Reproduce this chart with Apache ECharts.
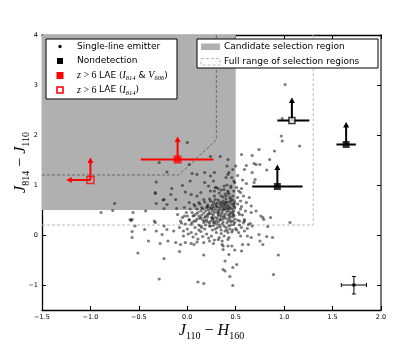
<!DOCTYPE html>
<html>
<head>
<meta charset="utf-8">
<script src="https://cdn.jsdelivr.net/npm/echarts@6/dist/echarts.min.js"></script>
<style>
    html, body { margin: 0; padding: 0; background: #fff; }
    #chart { width: 415px; height: 346px; }
</style>
</head>
<body>
<div id="chart"></div>
<script>
// ============================================
// 数据
// ============================================

// 单线发射体 [J110-H160, J814-J110]
const singleLine = [
    [-0.89, 0.45], [-0.77, 0.49], [-0.75, 0.63], [-0.56, 0.45], [-0.59, 0.31], [-0.58, 0.29], [-0.54, 0.18],
    [-0.57, 0.07], [-0.57, -0.05], [-0.51, -0.36], [-0.44, 0.11], [-0.40, -0.12], [-0.28, -0.17], [-0.24, -0.47],
    [-0.29, -0.88], [-0.33, 0.25], [-0.32, 0.08], [-0.26, 0.01], [-0.21, 0.11], [-0.20, -0.12], [-0.14, 0.08],
    [-0.12, -0.15], [-0.08, -0.33], [-0.07, -0.19], [-0.04, -0.02], [-0.02, -0.15], [0.04, -0.17], [0.07, -0.19],
    [0.10, -0.14], [0.11, -0.94], [0.17, -0.97], [0.17, -0.40], [0.17, -0.15], [0.23, -0.12], [0.27, -0.17],
    [0.32, -0.09], [0.36, -0.19], [0.37, -0.29], [0.42, -0.22], [0.39, -0.52], [0.37, -0.69], [0.39, -0.72],
    [0.44, -0.83], [0.43, -0.39], [0.42, -0.09], [0.47, -1.01], [0.47, -0.65], [0.51, -0.59], [0.49, -0.30],
    [0.56, -0.32], [0.89, -0.79], [0.94, -0.40], [0.36, -0.12], [0.37, -0.22], [0.43, -0.05], [0.46, -0.22],
    [0.57, -0.19], [0.63, -0.19], [0.75, -0.12], [0.78, -0.19], [0.74, 0.01], [0.82, -0.03], [0.88, -0.05],
    [0.83, 0.17], [1.06, 0.25], [0.66, -0.05], [0.62, -0.02], [0.55, -0.02], [0.53, 0.05], [0.59, 0.08],
    [0.62, 0.13], [0.67, 0.18], [0.65, 0.23], [0.59, 0.28], [0.54, 0.28], [0.79, 0.31], [0.48, 0.21], [0.50, 0.13],
    [1.01, 3.01], [0.98, 2.33], [0.97, 1.98], [0.98, 1.88], [1.16, 1.78], [0.74, 1.71], [0.90, 1.68], [0.85, 1.51],
    [0.82, 1.30], [0.67, 1.59], [0.56, 1.61], [0.69, 1.43], [0.71, 1.41], [0.75, 1.41], [0.61, 1.39], [0.59, 1.31],
    [0.67, 1.25], [0.52, 1.19], [0.57, 1.10], [0.61, 1.03], [0.69, 1.05], [0.70, 1.11], [0.56, 0.93], [0.55, 0.85],
    [0.58, 0.78], [0.64, 0.75], [0.55, 0.68], [0.61, 0.65], [0.66, 0.58], [0.56, 0.57], [0.60, 0.48], [0.66, 0.45],
    [0.54, 0.41], [0.71, 0.48], [0.76, 0.38], [0.78, 0.35], [0.86, 0.35], [0.48, 0.38], [0.47, 0.28], [0.59, 0.31],
    [0.63, 0.21], [0.42, 1.51], [0.41, 1.38], [0.42, 1.21], [0.40, 1.15], [0.48, 1.08], [0.45, 0.98], [0.38, 0.91],
    [0.42, 0.88], [-0.29, 1.45], [-0.21, 1.26], [-0.32, 1.06], [-0.33, 0.85], [-0.32, 0.63], [-0.24, 0.53],
    [-0.43, 0.48], [-0.16, 0.93], [-0.17, 0.81], [-0.12, 0.71], [-0.25, 0.70], [-0.11, 0.53], [0.02, 1.41],
    [0.03, 1.08], [0.05, 1.23], [0.10, 1.21], [0.18, 1.25], [0.24, 1.18], [0.28, 1.25], [0.34, 1.57], [0.24, 1.57],
    [0.43, 1.25], [0.47, 1.31], [0.50, 1.38], [-0.05, 0.99], [-0.02, 0.86], [0.04, 0.81], [0.10, 0.78], [0.14, 0.85],
    [0.22, 0.98], [0.28, 0.88], [0.32, 0.93], [0.38, 0.98], [0.35, 0.78], [0.42, 0.85], [0.17, 0.71], [0.24, 0.68],
    [0.29, 0.71], [0.12, 0.65], [0.07, 0.61], [0.02, 0.65], [-0.03, 0.55], [0.15, 0.55], [0.21, 0.57], [0.27, 0.55],
    [0.34, 0.61], [0.40, 0.65], [0.37, 0.51], [0.43, 0.53], [0.18, 1.05], [0.27, 1.08], [0.29, 0.95], [0.00, 1.85],
    [-0.21, 0.61], [-0.24, 0.71], [-0.33, 0.83], [-0.10, 0.41], [-0.03, 0.38], [-0.07, 0.28], [0.02, 0.31],
    [0.07, 0.39], [0.09, 0.28], [0.14, 0.35], [0.18, 0.28], [0.21, 0.41], [0.26, 0.35], [0.28, 0.25], [0.32, 0.41],
    [0.34, 0.31], [0.38, 0.38], [0.42, 0.28], [0.24, 0.18], [0.14, 0.18], [0.04, 0.21], [-0.57, 0.31], [-0.34, 0.28],
    [-0.24, 0.18],
    // 密集区
    [0.20, 0.30], [0.25, 0.35], [0.30, 0.28], [0.35, 0.40], [0.40, 0.33], [0.45, 0.45], [0.28, 0.45], [0.22, 0.42],
    [0.33, 0.50], [0.38, 0.55], [0.42, 0.60], [0.46, 0.52], [0.48, 0.40], [0.44, 0.30], [0.36, 0.22], [0.31, 0.15],
    [0.26, 0.10], [0.18, 0.12], [0.12, 0.20], [0.08, 0.15], [0.05, 0.25], [0.10, 0.32], [0.15, 0.40], [0.19, 0.48],
    [0.24, 0.55], [0.29, 0.62], [0.34, 0.66], [0.40, 0.72], [0.45, 0.68], [0.47, 0.78], [0.43, 0.82], [0.37, 0.76],
    [0.32, 0.70], [0.27, 0.66], [0.21, 0.60], [0.16, 0.52], [0.11, 0.45], [0.06, 0.38], [0.02, 0.30], [-0.02, 0.22],
    [0.00, 0.12], [0.04, 0.05], [0.09, 0.02], [0.14, 0.07], [0.20, 0.02], [0.25, -0.02], [0.30, 0.05], [0.35, 0.10],
    [0.40, 0.15], [0.45, 0.20], [0.49, 0.25], [0.47, 0.10], [0.42, 0.05], [0.38, -0.02], [0.33, -0.05], [0.28, -0.10],
    [0.22, -0.06], [0.16, -0.03], [0.11, -0.08], [0.06, -0.04], [0.01, 0.02], [-0.04, 0.08], [-0.08, 0.15],
    [-0.05, 0.35], [-0.01, 0.45], [0.03, 0.52], [0.08, 0.58], [0.13, 0.62], [0.18, 0.66], [0.23, 0.72], [0.28, 0.78],
    [0.33, 0.84], [0.38, 0.62], [0.43, 0.48], [0.48, 0.58], [0.49, 0.66], [0.46, 0.36], [0.41, 0.24], [0.37, 0.32],
    [0.32, 0.38], [0.27, 0.25], [0.23, 0.18], [0.17, 0.25], [0.13, 0.33], [0.09, 0.42], [0.21, 0.36], [0.26, 0.48],
    [0.31, 0.56], [0.36, 0.48], [0.39, 0.42], [0.44, 0.38], [0.34, 0.30], [0.29, 0.35], [0.24, 0.28], [0.19, 0.20],
    [0.15, 0.15], [0.27, 0.40], [0.33, 0.20], [0.39, 0.08], [0.44, 0.12], [0.48, 0.48], [0.41, 0.52], [0.36, 0.58],
    [0.31, 0.45], [0.25, 0.52], [0.20, 0.55], [0.14, 0.48], [0.07, 0.28], [0.12, 0.10], [0.18, 0.35], [0.23, 0.45],
    [0.35, 0.36], [0.42, 0.40], [0.46, 0.62], [0.40, 0.66], [0.30, 0.22], [0.26, 0.32], [0.37, 0.26], [0.43, 0.18],
    [0.49, 0.32], [0.47, 0.70], [0.44, 0.75], [0.39, 0.82], [0.35, 0.90], [0.30, 0.95], [0.24, 0.88], [0.48, 0.88],
    [0.45, 0.95], [0.41, 1.00], [0.49, 1.05], [0.46, 1.15], [0.52, 0.30], [0.53, 0.45], [0.55, 0.52], [0.52, 0.62],
    [0.57, 0.40], [0.54, 0.20], [0.51, 0.10], [0.56, 0.15], [0.58, 0.25], [0.52, 0.75], [0.53, 0.88], [0.51, 0.95],
    [0.31, 0.33], [0.36, 0.44], [0.41, 0.46], [0.44, 0.56], [0.39, 0.60], [0.34, 0.55], [0.29, 0.50], [0.22, 0.50],
    [0.17, 0.44], [0.12, 0.38], [0.27, 0.19], [0.32, 0.26], [0.38, 0.18], [0.45, 0.26], [0.47, 0.42], [0.49, 0.55],
    [0.43, 0.66], [0.37, 0.68], [0.31, 0.64], [0.26, 0.60], [0.19, 0.38], [0.23, 0.24], [0.29, 0.12], [0.35, 0.03],
    [0.41, 0.10], [0.46, 0.06], [0.05, 0.45], [0.10, 0.52], [0.00, 0.38], [-0.06, 0.24], [0.16, 0.30], [0.39, 0.50],
    [0.33, 0.44], [0.38, 0.36], [0.43, 0.34], [0.47, 0.46], [0.41, 0.56], [0.36, 0.64], [0.30, 0.58], [0.25, 0.42],
    [0.21, 0.26], [0.27, 0.30], [0.34, 0.16], [0.44, 0.42], [0.48, 0.62], [0.45, 0.72], [0.40, 0.78], [0.32, 0.48]
];

// [x, y, x下限, x上限, y箭头端, x箭头端]
const nondetection = [
    [0.93, 0.97, 0.67, 1.19, 1.41, 0.93],
    [1.64, 1.81, 1.54, 1.74, 2.26, 1.64]
];
const nondetectionOpen = [
    [1.08, 2.29, 0.93, 1.26, 2.75, 1.08]
];
const laeBoth = [
    [-0.10, 1.51, -0.48, 0.27, 1.97, -0.10]
];
const laeI814 = [
    [-1.00, 1.10, -1.00, -1.00, 1.55, -1.25]
];
// 典型误差 [x, y, x下限, x上限, y下限, y上限]
const typicalError = [
    [1.72, -1.00, 1.59, 1.85, -1.18, -0.83]
];

// 选择区域
const candidateRegion = [[-1.5, 0.5], [0.5, 4.0]];
const candidateEdge = [[-1.5, 1.2], [-0.09, 1.2], [0.30, 1.9], [0.30, 4.0]];
const fullRangeEdge = [[-1.5, 0.2], [1.3, 0.2], [1.3, 4.0]];

// 刻度
const xTicks = [-1.5, 2.0, 0.5];
const yTickValues = [-1, 0, 1, 2, 3, 4];

// ============================================
// 样式工具
// ============================================

const MATH = 'Liberation Serif';
const SANS = 'DejaVu Sans';

const richName = {
    m: { fontFamily: MATH, fontStyle: 'italic', fontSize: 16, lineHeight: 20, color: '#000' },
    t: { fontFamily: MATH, fontSize: 16, lineHeight: 20, color: '#000' },
    s: { fontFamily: MATH, fontSize: 10, lineHeight: 10, verticalAlign: 'bottom', color: '#000' }
};

const richLegend = {
    n: { fontFamily: SANS, fontSize: 9, lineHeight: 13, color: '#000' },
    m: { fontFamily: MATH, fontStyle: 'italic', fontSize: 10, lineHeight: 13, color: '#000' },
    t: { fontFamily: MATH, fontSize: 10, lineHeight: 13, color: '#000' },
    s: { fontFamily: MATH, fontStyle: 'italic', fontSize: 6.5, lineHeight: 7, verticalAlign: 'bottom', color: '#000' }
};

const minus = s => String(s).replace('-', '\u2212');

/**
 * 上限箭头和误差棒
 */
function renderLimits(color) {
    return function (params, api) {
        const x = api.value(0), y = api.value(1);
        const xLo = api.value(2), xHi = api.value(3);
        const yTip = api.value(4), xTip = api.value(5);
        const c = api.coord([x, y]);
        const stroke = { stroke: color, lineWidth: 2 };
        const kids = [];
        if (xLo !== xHi) {
            const a = api.coord([xLo, y]), b = api.coord([xHi, y]);
            kids.push({ type: 'line', shape: { x1: a[0], y1: a[1], x2: b[0], y2: b[1] }, style: stroke });
        }
        if (yTip !== y) {
            const t = api.coord([x, yTip]);
            kids.push({ type: 'line', shape: { x1: c[0], y1: c[1], x2: t[0], y2: t[1] + 4 }, style: stroke });
            kids.push({ type: 'polygon', shape: { points: [[t[0] - 3, t[1] + 5.5], [t[0] + 3, t[1] + 5.5], [t[0], t[1]]] }, style: { fill: color } });
        }
        if (xTip !== x) {
            const t = api.coord([xTip, y]);
            kids.push({ type: 'line', shape: { x1: c[0], y1: c[1], x2: t[0] + 4, y2: t[1] }, style: stroke });
            kids.push({ type: 'polygon', shape: { points: [[t[0] + 5.5, t[1] - 3], [t[0] + 5.5, t[1] + 3], [t[0], t[1]]] }, style: { fill: color } });
        }
        return { type: 'group', children: kids };
    };
}

/**
 * 典型误差十字
 */
function renderCross(params, api) {
    const x = api.value(0), y = api.value(1);
    const a = api.coord([api.value(2), y]), b = api.coord([api.value(3), y]);
    const lo = api.coord([x, api.value(4)]), hi = api.coord([x, api.value(5)]);
    const st = { stroke: '#000', lineWidth: 1 };
    const cap = 2;
    return {
        type: 'group',
        children: [
            { type: 'line', shape: { x1: a[0], y1: a[1], x2: b[0], y2: b[1] }, style: st },
            { type: 'line', shape: { x1: lo[0], y1: lo[1], x2: hi[0], y2: hi[1] }, style: st },
            { type: 'line', shape: { x1: a[0], y1: a[1] - cap, x2: a[0], y2: a[1] + cap }, style: st },
            { type: 'line', shape: { x1: b[0], y1: b[1] - cap, x2: b[0], y2: b[1] + cap }, style: st },
            { type: 'line', shape: { x1: lo[0] - cap, y1: lo[1], x2: lo[0] + cap, y2: lo[1] }, style: st },
            { type: 'line', shape: { x1: hi[0] - cap, y1: hi[1], x2: hi[0] + cap, y2: hi[1] }, style: st },
            { type: 'rect', shape: { x: a[0] + (b[0] - a[0]) / 2 - 1.5, y: a[1] - 1.5, width: 3, height: 3 }, style: { fill: '#000' } }
        ]
    };
}

const pts = arr => arr.map(d => [d[0], d[1]]);

// ============================================
// 坐标轴
// ============================================

const tickStyle = { inside: true, length: 4, lineStyle: { color: '#000', width: 1 } };

function xAxisOf(position, show) {
    return {
        type: 'value', position, min: xTicks[0], max: xTicks[1], interval: xTicks[2],
        axisLine: { onZero: false, lineStyle: { color: '#000', width: 1.3 } },
        axisTick: tickStyle,
        axisLabel: { show, fontFamily: SANS, fontSize: 6.5, color: '#000', margin: 4, formatter: v => minus(v.toFixed(1)) },
        splitLine: { show: false }
    };
}

function yAxisOf(position, show, lineColor, lineWidth) {
    return {
        type: 'value', position, min: -1.5, max: 4,
        axisLine: { onZero: false, lineStyle: { color: lineColor, width: lineWidth } },
        axisTick: Object.assign({ customValues: yTickValues }, tickStyle),
        axisLabel: { show, customValues: yTickValues, fontFamily: SANS, fontSize: 6.5, color: '#000', margin: 4, formatter: v => minus(v) },
        splitLine: { show: false }
    };
}

const xMain = xAxisOf('bottom', true);
xMain.name = '{m|J}{s|110}{t| \u2212 }{m|H}{s|160}';
xMain.nameLocation = 'middle';
xMain.nameGap = 11;
xMain.nameMoveOverlap = false;
xMain.nameTextStyle = { rich: richName };

const yMain = yAxisOf('left', true, '#000', 1.3);
yMain.name = '{m|J}{s|814}{t| \u2212 }{m|J}{s|110}';
yMain.nameLocation = 'middle';
yMain.nameGap = 11;
yMain.nameMoveOverlap = false;
yMain.nameTextStyle = { rich: richName, padding: [0, 0, 0, 20] };

// ============================================
// 图例（graphic）
// ============================================

function legendText(x, y, text) {
    return { type: 'text', x, y, z: 101, style: { text, rich: richLegend, verticalAlign: 'middle', align: 'left' } };
}

const legendGraphics = [
    { type: 'rect', z: 100, shape: { x: 46, y: 39, width: 131, height: 60 }, style: { fill: '#fff', stroke: '#000', lineWidth: 1 } },
    { type: 'circle', z: 101, shape: { cx: 60, cy: 46.5, r: 1.7 }, style: { fill: '#000' } },
    legendText(77, 46.5, '{n|Single-line emitter}'),
    { type: 'rect', z: 101, shape: { x: 57, y: 58, width: 6, height: 6 }, style: { fill: '#000' } },
    legendText(77, 61, '{n|Nondetection}'),
    { type: 'rect', z: 101, shape: { x: 56.5, y: 72, width: 7, height: 7 }, style: { fill: '#f00' } },
    legendText(77, 75.5, '{m|z}{t| > 6 }{n|LAE (}{m|I}{s|814}{n| & }{m|V}{s|606}{n|)}'),
    { type: 'rect', z: 101, shape: { x: 57, y: 87, width: 6, height: 6 }, style: { fill: 'none', stroke: '#f00', lineWidth: 1.6 } },
    legendText(77, 90, '{m|z}{t| > 6 }{n|LAE (}{m|I}{s|814}{n|)}'),

    { type: 'rect', z: 100, shape: { x: 197, y: 39, width: 181, height: 29 }, style: { fill: '#fff', stroke: '#000', lineWidth: 1 } },
    { type: 'rect', z: 101, shape: { x: 201, y: 43.5, width: 19, height: 6.5 }, style: { fill: '#b0b0b0' } },
    legendText(224, 47, '{n|Candidate selection region}'),
    { type: 'rect', z: 101, shape: { x: 201, y: 58.5, width: 19, height: 6.5 }, style: { fill: 'none', stroke: '#bbb', lineWidth: 1, lineDash: [3, 2] } },
    legendText(224, 62, '{n|Full range of selection regions}')
];

// ============================================
// 图表
// ============================================

const chart = echarts.init(document.getElementById('chart'), null, { renderer: 'canvas' });

chart.setOption({
    animation: false,
    backgroundColor: '#fff',
    grid: { left: 42, right: 34, top: 35, bottom: 36, outerBoundsMode: 'none' },
    xAxis: [xMain, xAxisOf('top', false)],
    yAxis: [yMain, yAxisOf('right', false, '#777', 2)],
    graphic: legendGraphics,
    series: [
        {
            name: 'Candidate selection region', type: 'line', z: 1, silent: true,
            data: candidateEdge, symbol: 'none',
            lineStyle: { color: '#666', width: 1, type: [3, 2] },
            markArea: {
                silent: true,
                itemStyle: { color: '#b0b0b0' },
                data: [[{ coord: candidateRegion[0] }, { coord: candidateRegion[1] }]]
            }
        },
        {
            name: 'Full range of selection regions', type: 'line', z: 1, silent: true,
            data: fullRangeEdge, symbol: 'none',
            lineStyle: { color: '#bbb', width: 1, type: [3, 2] }
        },
        {
            name: 'Single-line emitter', type: 'scatter', z: 2, silent: true,
            data: singleLine, symbol: 'circle', symbolSize: 3.2,
            itemStyle: { color: 'rgba(15,15,15,0.68)' }
        },
        { type: 'custom', z: 3, silent: true, renderItem: renderLimits('#000'), data: nondetection.concat(nondetectionOpen) },
        { type: 'custom', z: 3, silent: true, renderItem: renderLimits('#f00'), data: laeBoth.concat(laeI814) },
        { type: 'custom', z: 3, silent: true, renderItem: renderCross, data: typicalError },
        {
            name: 'Nondetection', type: 'scatter', z: 4, silent: true,
            data: pts(nondetection), symbol: 'rect', symbolSize: 7,
            itemStyle: { color: '#000' }
        },
        {
            type: 'scatter', z: 4, silent: true,
            data: pts(nondetectionOpen), symbol: 'rect', symbolSize: 6,
            itemStyle: { color: '#fff', borderColor: '#000', borderWidth: 1.5 }
        },
        {
            name: 'z > 6 LAE (I814 & V606)', type: 'scatter', z: 4, silent: true,
            data: pts(laeBoth), symbol: 'rect', symbolSize: 8,
            itemStyle: { color: '#f00' }
        },
        {
            name: 'z > 6 LAE (I814)', type: 'scatter', z: 4, silent: true,
            data: pts(laeI814), symbol: 'rect', symbolSize: 7,
            itemStyle: { color: 'rgba(0,0,0,0)', borderColor: '#f00', borderWidth: 1.5 }
        }
    ]
});
</script>
</body>
</html>
